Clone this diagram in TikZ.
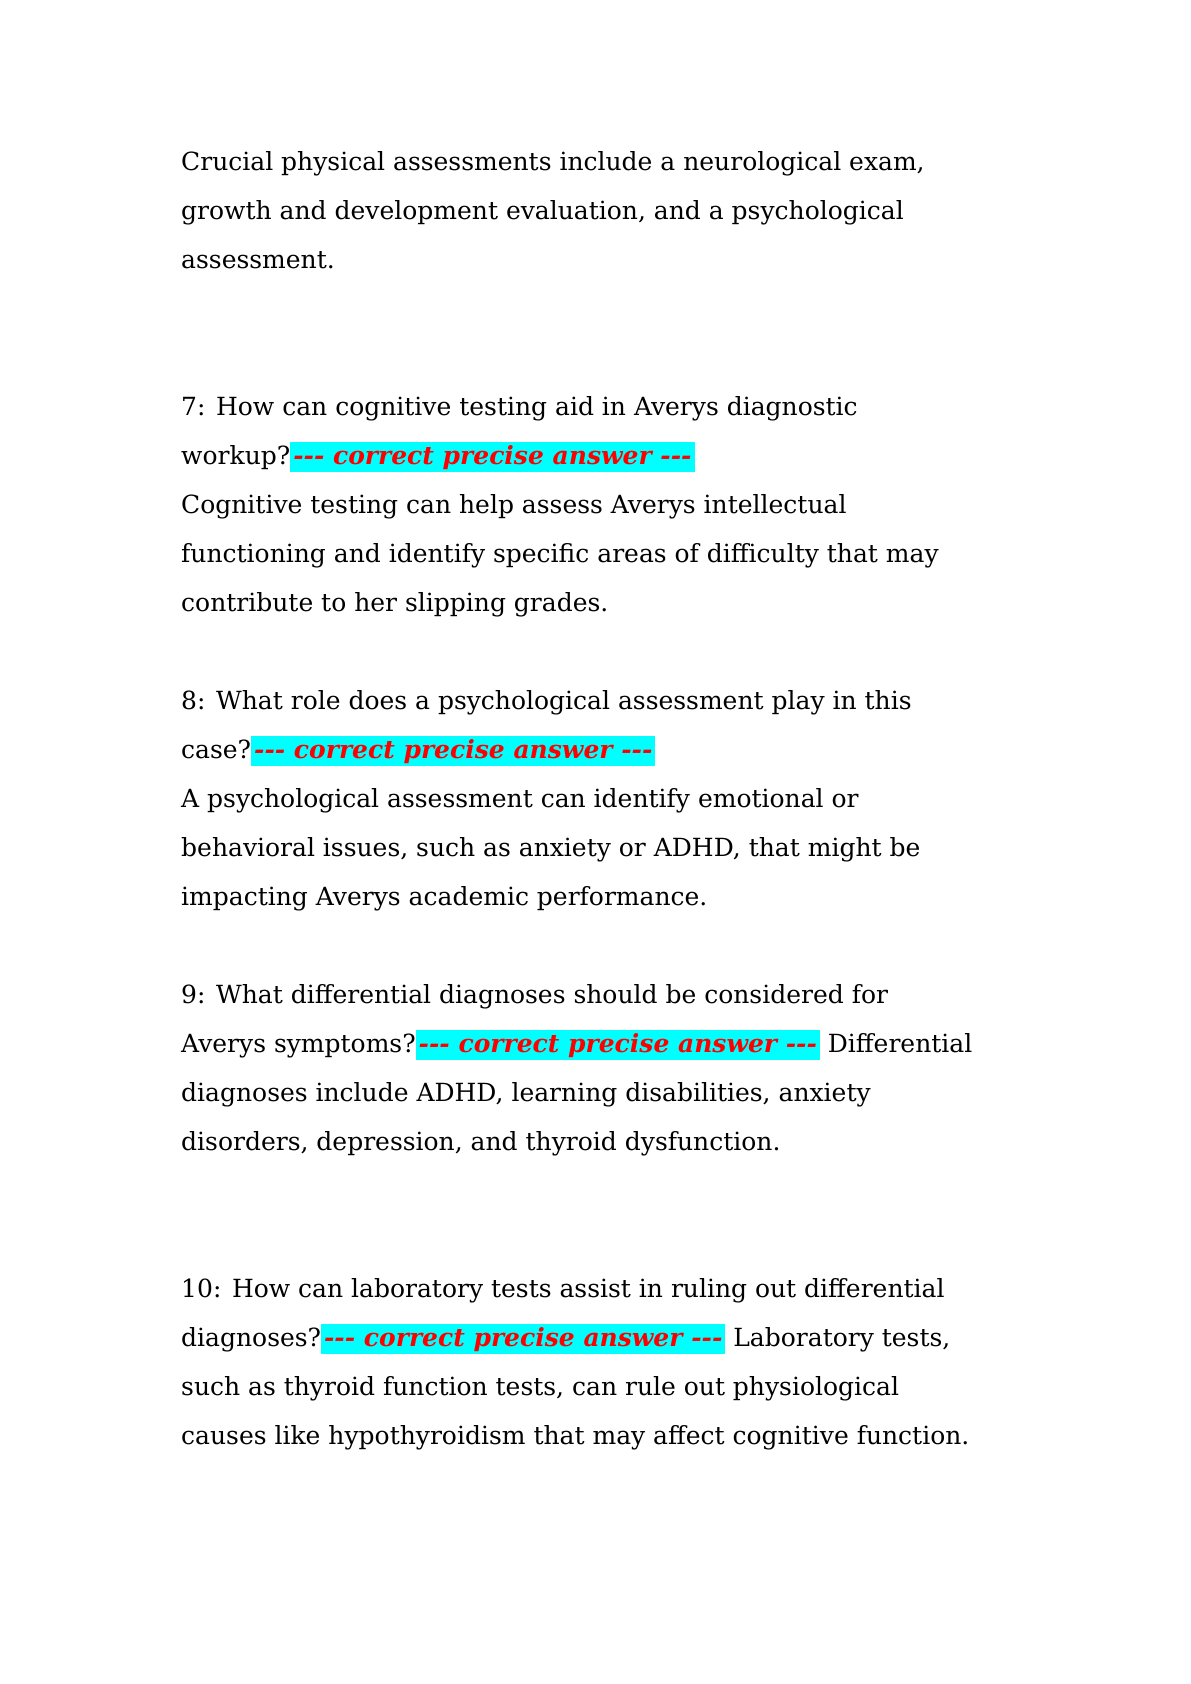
\documentclass[tikz,border=0pt]{standalone}
\usepackage{fontspec}
\setmainfont{DejaVu Serif}
\usepackage{xcolor}
\definecolor{hlcyan}{RGB}{0,255,255}
\definecolor{hlred}{RGB}{255,0,0}
\begin{document}
\begin{tikzpicture}[x=1pt,y=-1pt,
  ln/.style={anchor=base west,inner sep=0pt,font=\fontsize{25}{30}\selectfont}]
\newcommand{\hlans}{{\setlength{\fboxsep}{3pt}\colorbox{hlcyan}{\textcolor{hlred}{\bfseries\itshape -{}-{}- correct precise answer -{}-{}-}}}}
\useasboundingbox (0,0) rectangle (1191,1684);
\node[ln] (l1) at (181,170) {Crucial physical assessments include a neurological exam,};
\node[ln] (l2) at (181,219) {growth and development evaluation, and a psychological};
\node[ln] (l3) at (181,268) {assessment.};
\node[ln] (l4) at (181,415) {7: How can cognitive testing aid in Averys diagnostic};
\node[ln] (l5) at (181,464) {workup?\hlans};
\node[ln] (l6) at (181,513) {Cognitive testing can help assess Averys intellectual};
\node[ln] (l7) at (181,562) {functioning and identify specific areas of difficulty that may};
\node[ln] (l8) at (181,611) {contribute to her slipping grades.};
\node[ln] (l9) at (181,709) {8: What role does a psychological assessment play in this};
\node[ln] (l10) at (181,758) {case?\hlans};
\node[ln] (l11) at (181,807) {A psychological assessment can identify emotional or};
\node[ln] (l12) at (181,856) {behavioral issues, such as anxiety or ADHD, that might be};
\node[ln] (l13) at (181,905) {impacting Averys academic performance.};
\node[ln] (l14) at (181,1003) {9: What differential diagnoses should be considered for};
\node[ln] (l15) at (181,1052) {Averys symptoms?\hlans{} Differential};
\node[ln] (l16) at (181,1101) {diagnoses include ADHD, learning disabilities, anxiety};
\node[ln] (l17) at (181,1150) {disorders, depression, and thyroid dysfunction.};
\node[ln] (l18) at (181,1297) {10: How can laboratory tests assist in ruling out differential};
\node[ln] (l19) at (181,1346) {diagnoses?\hlans{} Laboratory tests,};
\node[ln] (l20) at (181,1395) {such as thyroid function tests, can rule out physiological};
\node[ln] (l21) at (181,1444) {causes like hypothyroidism that may affect cognitive function.};
\end{tikzpicture}
\end{document}
